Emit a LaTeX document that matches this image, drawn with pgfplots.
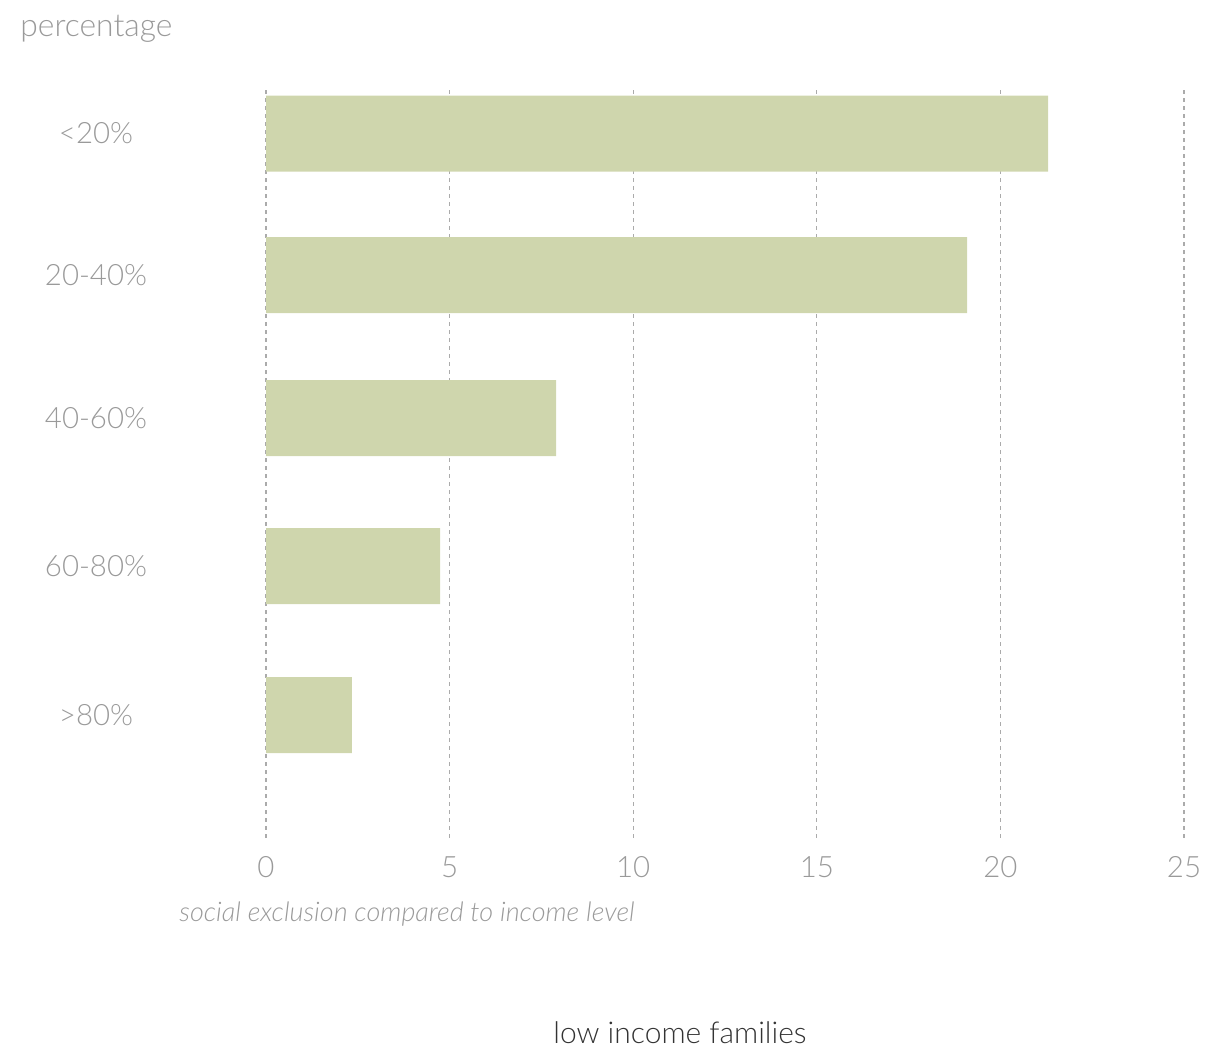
\documentclass[border=0pt]{standalone}
\usepackage{pgfplots}
\pgfplotsset{compat=1.18}
\usepackage{fontspec}
\setmainfont{Lato}[UprightFont=* Light, ItalicFont=* Light Italic]
\definecolor{barc}{HTML}{CFD6AD}
\definecolor{txt}{HTML}{9A9A9A}
\definecolor{gridc}{HTML}{ABABAB}
\definecolor{dark}{HTML}{333333}
\begin{document}
\begin{tikzpicture}
\useasboundingbox (0,0) rectangle (604pt,526.5pt);
\begin{axis}[
  at={(133pt,107.5pt)}, anchor=south west,
  scale only axis, width=459pt, height=374pt,
  xmin=0, xmax=25, ymin=-0.845, ymax=4.30,
  xbar, bar width=38pt, bar shift=0pt,
  xtick={0,5,10,15,20,25},
  ytick={0,1.025,2.043,3.026,4},
  yticklabels={>80\%,60-80\%,40-60\%,20-40\%,<20\%},
  xmajorgrids,
  major grid style={draw=gridc, dash pattern=on 2pt off 2pt, line width=0.6pt},
  axis line style={draw=none},
  major tick length=0pt,
  /pgf/number format/assume math mode=true,
  tick label style={font=\fontsize{14.7}{18}\selectfont, text=txt},
  yticklabel style={anchor=center, xshift=-85pt},
  xticklabel style={anchor=center, yshift=-14.5pt},
  clip=false,
]
\addplot[fill=barc, draw=none] coordinates {
  (2.34,0) (4.74,1.025) (7.9,2.043) (19.09,3.026) (21.3,4)
};
\end{axis}
\node[anchor=base west, text=txt, font=\fontsize{15.9}{18}\selectfont, inner sep=0pt] at (10pt,508pt) {percentage};
\node[anchor=base west, text=txt, font=\fontsize{13.5}{15}\selectfont\itshape, inner sep=0pt] at (89.5pt,65.5pt) {social exclusion compared to income level};
\node[anchor=base, text=dark, font=\fontsize{15}{18}\selectfont, inner sep=0pt] at (340pt,5pt) {low income families};
\end{tikzpicture}
\end{document}
